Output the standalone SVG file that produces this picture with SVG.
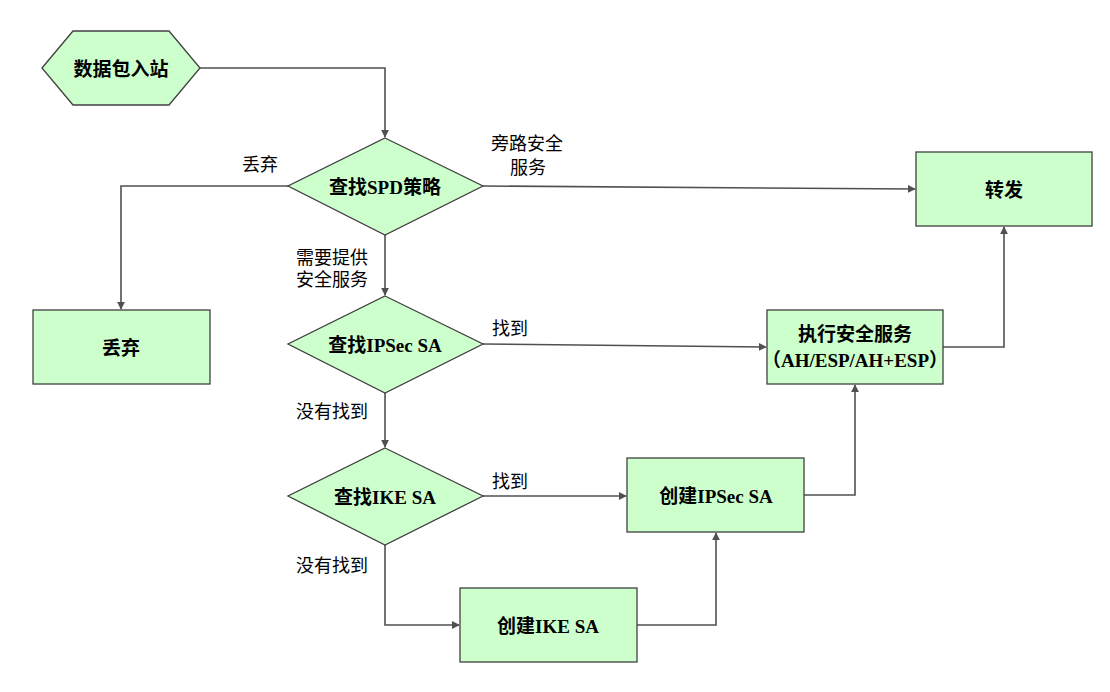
<svg xmlns="http://www.w3.org/2000/svg" width="1110" height="692" viewBox="0 0 1110 692">
<style>
.n{fill:#ccffcc;stroke:#404040;stroke-width:1.3}
.t{font-family:"Liberation Serif","Noto Sans CJK SC",serif;font-weight:bold;font-size:19px;fill:#000;text-anchor:middle;dominant-baseline:central}
.c{fill:none;stroke:#505050;stroke-width:1.6}
.l{font-family:"Liberation Sans","Noto Sans CJK SC",sans-serif;font-size:18px;fill:#000}
</style>
<defs>
<marker id="a" viewBox="0 0 10 10" refX="9" refY="5" markerWidth="8" markerHeight="8" markerUnits="userSpaceOnUse" orient="auto"><path d="M0,0 L10,5 L0,10 Z" fill="#505050"/></marker>
</defs>
<rect width="1110" height="692" fill="#fff"/>
<g id="connectors">
<polyline class="c" points="200,68 385,68 385,137" marker-end="url(#a)"/>
<polyline class="c" points="289,186 121,186 121,309" marker-end="url(#a)"/>
<line class="c" x1="483" y1="186" x2="915" y2="189" marker-end="url(#a)"/>
<line class="c" x1="385" y1="235" x2="385" y2="295" marker-end="url(#a)"/>
<line class="c" x1="483" y1="344" x2="766" y2="347" marker-end="url(#a)"/>
<polyline class="c" points="943,347 1004,347 1004,227" marker-end="url(#a)"/>
<line class="c" x1="385" y1="393" x2="385" y2="447" marker-end="url(#a)"/>
<line class="c" x1="483" y1="496" x2="626" y2="496" marker-end="url(#a)"/>
<polyline class="c" points="804,495 855,495 855,385" marker-end="url(#a)"/>
<polyline class="c" points="385,545 385,625 459,625" marker-end="url(#a)"/>
<polyline class="c" points="637,625 716,625 716,533" marker-end="url(#a)"/>
</g>
<g id="labels">
<text class="l" x="242" y="171">丢弃</text>
<text class="l" x="491" y="150">旁路安全</text>
<text class="l" x="510" y="174">服务</text>
<text class="l" x="296" y="264">需要提供</text>
<text class="l" x="296" y="286">安全服务</text>
<text class="l" x="492" y="335">找到</text>
<text class="l" x="296" y="418">没有找到</text>
<text class="l" x="492" y="488">找到</text>
<text class="l" x="296" y="572">没有找到</text>
</g>
<g id="start"><polygon class="n" points="42,68 73,31 169,31 200,68 169,105 73,105"/><text class="t" x="121" y="69">数据包入站</text></g>
<g id="spd"><polygon class="n" points="385,138 483,186 385,235 288,186"/><text class="t" x="385" y="187">查找SPD策略</text></g>
<g id="discard"><rect class="n" x="33" y="310" width="177" height="74"/><text class="t" x="121" y="348">丢弃</text></g>
<g id="forward"><rect class="n" x="916" y="152" width="176" height="74"/><text class="t" x="1004" y="190">转发</text></g>
<g id="ipsec"><polygon class="n" points="385,296 483,344 385,393 288,344"/><text class="t" x="385" y="345">查找IPSec SA</text></g>
<g id="exec"><rect class="n" x="767" y="310" width="176" height="74"/><text class="t" x="855" y="334">执行安全服务</text><text class="t" x="855" y="360">（AH/ESP/AH+ESP）</text></g>
<g id="ike"><polygon class="n" points="385,448 483,496 385,545 288,496"/><text class="t" x="385" y="497">查找IKE SA</text></g>
<g id="createipsec"><rect class="n" x="627" y="458" width="177" height="74"/><text class="t" x="716" y="496">创建IPSec SA</text></g>
<g id="createike"><rect class="n" x="460" y="588" width="177" height="74"/><text class="t" x="548" y="626">创建IKE SA</text></g>
</svg>
